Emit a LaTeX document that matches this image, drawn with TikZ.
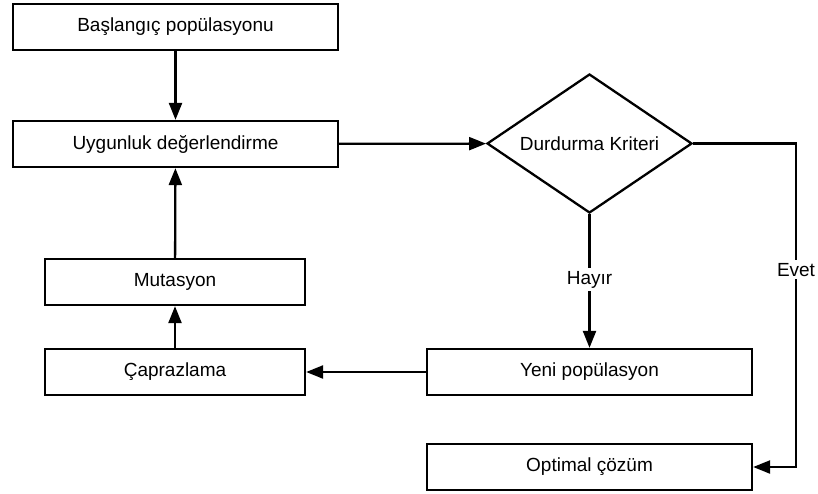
\documentclass[tikz,border=0pt]{standalone}
\usepackage{fontspec}
\setmainfont{Liberation Sans}
\usetikzlibrary{arrows.meta,shapes.geometric}
\begin{document}
\begin{tikzpicture}[x=1pt,y=-1pt,
  every node/.style={font=\fontsize{19}{22}\selectfont},
  box/.style={draw,line width=2.3pt,rectangle,minimum height=46pt,inner sep=0pt},
  decision/.style={draw,line width=2.3pt,diamond,shape aspect=1.475,minimum width=205pt,minimum height=139pt,inner sep=0pt},
  flow/.style={line width=2.3pt,-{Triangle[length=17pt,width=13pt]}},
  lbl/.style={fill=white,inner sep=3pt}]
\useasboundingbox (0,0) rectangle (818,493);
% left column
\node[box,minimum width=325pt] (start) at (175.5,27) {Başlangıç popülasyonu};
\node[box,minimum width=325pt] (eval) at (175.5,144) {Uygunluk değerlendirme};
\node[box,minimum width=260pt] (mut) at (175,282) {Mutasyon};
\node[box,minimum width=260pt] (cross) at (175,372) {Çaprazlama};
% right column
\node[decision] (stop) at (589.5,143.5) {Durdurma Kriteri};
\node[box,minimum width=325pt] (newpop) at (589.5,372) {Yeni popülasyon};
\node[box,minimum width=325pt] (opt) at (589.5,467) {Optimal çözüm};
\coordinate (corner) at (796,143.5);
% connectors
\draw[flow] (start) -- (eval);
\draw[flow] (eval) -- (stop);
\draw[flow] (stop) -- node[lbl,pos=0.49] {Hayır} (newpop);
\draw[flow] (stop.east) -- (corner) -- node[lbl,pos=0.39] {Evet} (corner |- opt.east) -- (opt.east);
\draw[flow] (newpop) -- (cross);
\draw[flow] (cross) -- (mut);
\draw[flow] (mut) -- (eval);
\end{tikzpicture}
\end{document}
